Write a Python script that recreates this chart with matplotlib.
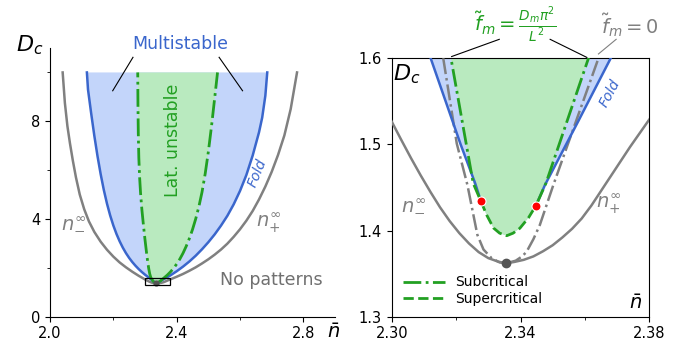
import numpy as np
import matplotlib
matplotlib.use('Agg')
import matplotlib.pyplot as plt
from matplotlib.patches import Rectangle
from matplotlib.lines import Line2D

plt.rcParams['font.family'] = 'DejaVu Sans'
plt.rcParams['mathtext.fontset'] = 'dejavusans'

# colours
BLUE = '#3a66cc'
BLUE_FILL = '#c3d5fa'
GREEN = '#22a022'
GREEN_FILL = '#b9eabf'
GREY = '#808080'

# minimum of the n_inf curves
n_min, D_min = 2.3355, 1.362

# grey n_-^inf and n_+^inf (from the minimum upwards)
nminus_n = [2.3355, 2.333, 2.330, 2.327, 2.324, 2.321, 2.318, 2.315, 2.312, 2.309,
            2.306, 2.303, 2.2995, 2.28, 2.26, 2.24, 2.22, 2.20, 2.18, 2.16,
            2.14, 2.123, 2.108, 2.094, 2.082, 2.072, 2.063, 2.055, 2.047, 2.040]
nminus_D = [1.362, 1.364, 1.368, 1.375, 1.385, 1.397, 1.411, 1.427, 1.445, 1.464,
            1.484, 1.505, 1.530, 1.675, 1.84, 2.02, 2.22, 2.46, 2.74, 3.07,
            3.47, 3.9, 4.4, 5.0, 5.7, 6.4, 7.1, 7.8, 8.75, 10.0]
nplus_n = [2.3355, 2.338, 2.341, 2.344, 2.347, 2.350, 2.353, 2.356, 2.359, 2.362,
           2.365, 2.368, 2.371, 2.374, 2.377, 2.380, 2.40, 2.42, 2.44, 2.46,
           2.48, 2.50, 2.52, 2.54, 2.56, 2.58, 2.60, 2.62, 2.64, 2.66,
           2.68, 2.70, 2.72, 2.74, 2.76, 2.78]
nplus_D = [1.362, 1.3635, 1.366, 1.370, 1.376, 1.383, 1.392, 1.402, 1.414, 1.429,
           1.446, 1.463, 1.480, 1.497, 1.513, 1.529, 1.635, 1.75, 1.88, 2.02,
           2.18, 2.35, 2.54, 2.75, 2.99, 3.27, 3.58, 3.93, 4.33, 4.8,
           5.33, 5.93, 6.62, 7.42, 8.5, 10.0]

# fold curves (blue), from the red dots upwards
foldL_n = [2.3277, 2.3259, 2.3214, 2.3121, 2.30, 2.29, 2.28, 2.27, 2.26, 2.25,
           2.24, 2.23, 2.22, 2.21, 2.20, 2.19, 2.18, 2.17, 2.16, 2.15,
           2.14, 2.13, 2.12, 2.1165]
foldL_D = [1.434, 1.455, 1.50, 1.60, 1.72, 1.83, 1.95, 2.085, 2.235, 2.405,
           2.6, 2.825, 3.085, 3.385, 3.735, 4.145, 4.625, 5.185, 5.835, 6.575,
           7.405, 8.325, 9.3, 10.0]
foldR_n = [2.3448, 2.3476, 2.3578, 2.3680, 2.38, 2.40, 2.42, 2.44, 2.46, 2.48,
           2.50, 2.52, 2.54, 2.56, 2.58, 2.60, 2.62, 2.64, 2.66, 2.67,
           2.68, 2.686]
foldR_D = [1.429, 1.453, 1.526, 1.60, 1.69, 1.86, 2.05, 2.26, 2.495, 2.76,
           3.05, 3.37, 3.73, 4.13, 4.60, 5.15, 5.80, 6.60, 7.55, 8.15,
           9.05, 10.0]

# subcritical (green dash-dot), from the red dots upwards
subL_n = [2.3277, 2.3253, 2.3184, 2.315, 2.312, 2.309, 2.305, 2.300, 2.295, 2.290,
          2.286, 2.283, 2.2805, 2.2788, 2.2777, 2.277]
subL_D = [1.434, 1.455, 1.60, 1.75, 1.95, 2.2, 2.6, 3.15, 3.75, 4.4,
          5.05, 5.7, 6.5, 7.5, 8.7, 10.0]
subR_n = [2.3448, 2.3479, 2.3611, 2.37, 2.38, 2.39, 2.40, 2.41, 2.42, 2.43,
          2.44, 2.45, 2.46, 2.47, 2.48, 2.49, 2.50, 2.51, 2.52, 2.529]
subR_D = [1.429, 1.455, 1.60, 1.70, 1.83, 1.98, 2.155, 2.36, 2.6, 2.88,
          3.2, 3.57, 4.0, 4.5, 5.1, 5.85, 6.75, 7.8, 8.95, 10.0]

# supercritical (green dashed), left red dot -> right red dot
sup_n = [2.3277, 2.3295, 2.3316, 2.3335, 2.3357, 2.3377, 2.3398, 2.3425, 2.3448]
sup_D = [1.434, 1.418, 1.403, 1.397, 1.394, 1.397, 1.4027, 1.415, 1.429]

# f_m = 0 (grey dash-dot)
f0L_n = [2.3160, 2.3202, 2.3235, 2.3266, 2.3285, 2.3310, 2.3335, 2.3355]
f0L_D = [1.600, 1.501, 1.453, 1.395, 1.378, 1.368, 1.363, 1.362]
f0R_n = [2.3355, 2.3385, 2.3405, 2.3419, 2.3440, 2.3460, 2.3502, 2.3642]
f0R_D = [1.362, 1.365, 1.370, 1.3755, 1.390, 1.4065, 1.453, 1.600]


def region(left_n, left_D, right_n, right_D, mid_n, mid_D):
    xs = list(left_n[::-1]) + list(mid_n) + list(right_n)
    ys = list(left_D[::-1]) + list(mid_D) + list(right_D)
    return xs, ys


def draw_common(ax, lw_sub=2.0):
    bx, by = region(foldL_n, foldL_D, foldR_n, foldR_D, sup_n, sup_D)
    ax.fill(bx, by, color=BLUE_FILL, lw=0, zorder=1)
    gx, gy = region(subL_n, subL_D, subR_n, subR_D, sup_n, sup_D)
    ax.fill(gx, gy, color=GREEN_FILL, lw=0, zorder=2)
    ax.plot(nminus_n, nminus_D, color=GREY, lw=1.8, zorder=3)
    ax.plot(nplus_n, nplus_D, color=GREY, lw=1.8, zorder=3)
    ax.plot(foldL_n, foldL_D, color=BLUE, lw=1.8, zorder=4)
    ax.plot(foldR_n, foldR_D, color=BLUE, lw=1.8, zorder=4)
    ax.plot(subL_n, subL_D, color=GREEN, lw=lw_sub, ls='-.', zorder=5)
    ax.plot(subR_n, subR_D, color=GREEN, lw=lw_sub, ls='-.', zorder=5)
    ax.plot(sup_n, sup_D, color=GREEN, lw=lw_sub, ls='--', zorder=5)


fig = plt.figure(figsize=(6.84, 3.43), dpi=100)

# ---------------- left panel ----------------
ax1 = fig.add_axes([0.0731, 0.0767, 0.4167, 0.7833])
draw_common(ax1)
ax1.plot([n_min], [D_min], 'o', color='#555555', ms=3.5, zorder=6)
ax1.add_patch(Rectangle((2.30, 1.3), 0.08, 0.3, fill=False, ec='black', lw=0.9, zorder=7))
ax1.set_xlim(2.0, 2.9)
ax1.set_ylim(0, 11)
ax1.spines['top'].set_visible(False)
ax1.spines['right'].set_visible(False)
ax1.set_xticks([2.0, 2.4, 2.8])
ax1.set_xticklabels(['2.0', '2.4', '2.8'])
ax1.set_xticks([2.2, 2.6], minor=True)
ax1.set_yticks([0, 4, 8])
ax1.set_yticks([2, 6, 10], minor=True)
ax1.tick_params(labelsize=10.5)

ax1.text(2.41, 11.15, 'Multistable', color=BLUE, fontsize=12.5, ha='center', va='center',
         clip_on=False)
ax1.plot([2.262, 2.198], [10.62, 9.25], color='black', lw=0.8, clip_on=False)
ax1.plot([2.534, 2.608], [10.62, 9.25], color='black', lw=0.8, clip_on=False)
ax1.text(2.388, 7.24, 'Lat. unstable', color=GREEN, fontsize=12.5, rotation=90,
         ha='center', va='center')
ax1.text(2.655, 5.9, 'Fold', color=BLUE, fontsize=10, rotation=68, ha='center',
         va='center', style='italic')
ax1.text(2.074, 3.89, r'$n_{-}^{\infty}$', color=GREY, fontsize=14, ha='center', va='center')
ax1.text(2.690, 3.82, r'$n_{+}^{\infty}$', color=GREY, fontsize=14, ha='center', va='center')
ax1.text(2.70, 1.5, 'No patterns', color='#707070', fontsize=12.5, ha='center', va='center')
ax1.text(-0.07, 1.01, r'$D_c$', transform=ax1.transAxes, fontsize=16, ha='center', va='center')
ax1.text(0.995, -0.06, r'$\bar{n}$', transform=ax1.transAxes, fontsize=14, ha='center', va='center')

# ---------------- right panel ----------------
ax2 = fig.add_axes([0.5727, 0.0767, 0.3766, 0.7534])
draw_common(ax2)
ax2.plot(f0L_n, f0L_D, color=GREY, lw=1.8, ls='-.', zorder=3)
ax2.plot(f0R_n, f0R_D, color=GREY, lw=1.8, ls='-.', zorder=3)
ax2.plot([n_min], [D_min], 'o', color='#555555', ms=6, zorder=6)
ax2.plot([sup_n[0], sup_n[-1]], [sup_D[0], sup_D[-1]], 'o', color='red', mec='white',
         mew=0.8, ms=6.5, zorder=7)
ax2.set_xlim(2.30, 2.38)
ax2.set_ylim(1.3, 1.6)
ax2.set_xticks([2.30, 2.34, 2.38])
ax2.set_xticklabels(['2.30', '2.34', '2.38'])
ax2.set_xticks([2.32, 2.36], minor=True)
ax2.set_yticks([1.3, 1.4, 1.5, 1.6])
ax2.tick_params(labelsize=10.5)

ax2.text(2.3047, 1.581, r'$D_c$', fontsize=16, ha='center', va='center')
ax2.text(2.3756, 1.3155, r'$\bar{n}$', fontsize=14, ha='center', va='center')
ax2.text(2.3677, 1.559, 'Fold', color=BLUE, fontsize=10, rotation=62, ha='center',
         va='center', style='italic')
ax2.text(2.3069, 1.431, r'$n_{-}^{\infty}$', color=GREY, fontsize=14, ha='center', va='center')
ax2.text(2.3673, 1.431, r'$n_{+}^{\infty}$', color=GREY, fontsize=14, ha='center', va='center')

ax2.text(2.3383, 1.638, r'$\tilde{f}_m = \frac{D_m\pi^2}{L^2}$', color=GREEN, fontsize=14,
         ha='center', va='center', clip_on=False)
ax2.plot([2.3334, 2.3186], [1.622, 1.602], color='black', lw=0.8, clip_on=False)
ax2.plot([2.3492, 2.3606], [1.622, 1.601], color='black', lw=0.8, clip_on=False)
ax2.text(2.3739, 1.638, r'$\tilde{f}_m = 0$', color=GREY, fontsize=14,
         ha='center', va='center', clip_on=False)
ax2.plot([2.3697, 2.3642], [1.622, 1.605], color=GREY, lw=0.8, clip_on=False)

handles = [Line2D([], [], color=GREEN, lw=2, ls='-.'),
           Line2D([], [], color=GREEN, lw=2, ls='--')]
ax2.legend(handles, ['Subcritical', 'Supercritical'], loc='lower left', frameon=False,
           fontsize=10, handlelength=3, borderaxespad=0.4, labelspacing=0.15)

fig.savefig('out.png', dpi=100)
